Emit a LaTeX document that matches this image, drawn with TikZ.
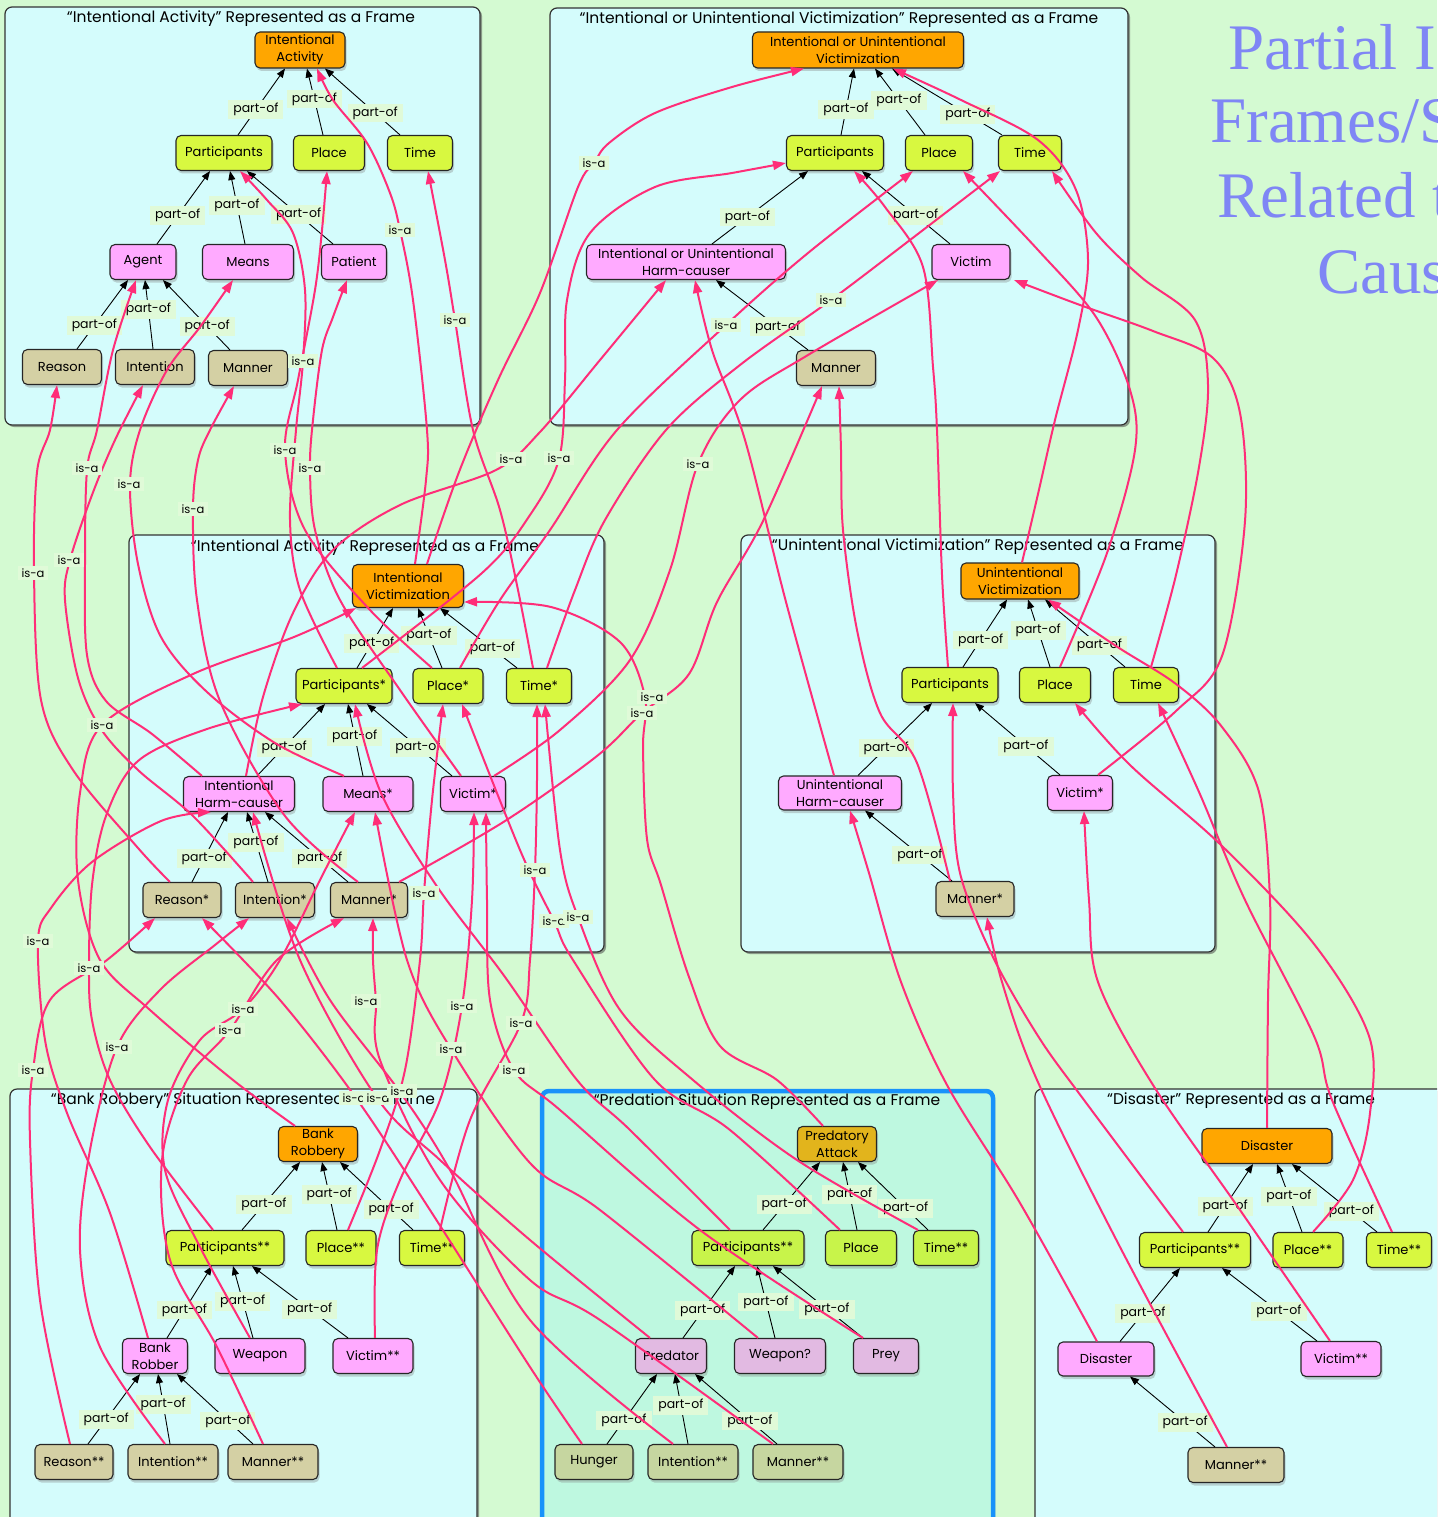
\documentclass[tikz,border=0pt]{standalone}
\usepackage{fontspec}
\setsansfont{Poppins}
\newfontfamily\bigserif{Liberation Serif}
\usetikzlibrary{arrows.meta,shadows}

\definecolor{pagebg}{RGB}{212,250,210}
\definecolor{framebg}{RGB}{212,252,252}
\definecolor{predbg}{RGB}{190,248,224}
\definecolor{predline}{RGB}{24,146,250}
\definecolor{cOrange}{RGB}{255,166,0}
\definecolor{cSlot}{RGB}{216,248,64}
\definecolor{cRole}{RGB}{255,170,255}
\definecolor{cAttr}{RGB}{212,208,164}
\definecolor{pOrange}{RGB}{226,180,28}
\definecolor{pSlot}{RGB}{200,244,74}
\definecolor{pRole}{RGB}{226,186,226}
\definecolor{pAttr}{RGB}{198,214,160}
\definecolor{isacol}{RGB}{255,45,120}
\definecolor{lblbg}{RGB}{224,250,216}
\definecolor{titleblue}{RGB}{127,134,245}

\tikzset{
  framebox/.style={draw=black!80, line width=1.2pt, rounded corners=7pt, fill=framebg,
     drop shadow={shadow xshift=2pt, shadow yshift=-2pt, opacity=0.55, fill=black!70}},
  ftitle/.style={font=\sffamily\fontsize{15.5}{18}\selectfont, inner sep=0pt},
  cbox/.style={draw=black!85, line width=1.1pt, rounded corners=5pt, inner sep=1pt, align=center,
     minimum height=35pt, font=\sffamily\fontsize{13}{17}\selectfont,
     drop shadow={shadow xshift=1.5pt, shadow yshift=-3pt, opacity=0.35}},
  frm/.style={cbox, fill=cOrange},
  slot/.style={cbox, fill=cSlot},
  role/.style={cbox, fill=cRole},
  attr/.style={cbox, fill=cAttr},
  partof/.style={draw=black, line width=0.9pt, -{Triangle[length=9pt,width=7pt]}},
  plbl/.style={fill=lblbg, inner xsep=5pt, inner ysep=3pt, font=\sffamily\fontsize{12.5}{13}\selectfont},
  isa/.style={draw=isacol, line width=2pt, -{Triangle[length=13pt,width=9pt]}},
  ilbl/.style={fill=lblbg, inner xsep=4pt, inner ysep=3pt, font=\sffamily\fontsize{11.5}{13}\selectfont},
  bigtitle/.style={anchor=base west, inner sep=0pt, text=titleblue, font=\bigserif\fontsize{65}{65}\selectfont}
}

% part-of connector: child, shift at child top, parent, shift at parent bottom, label position
\newcommand\pof[5]{\draw[partof] ([xshift=#2pt]#1.north) -- node[plbl,pos=#5]{part-of} ([xshift=#4pt]#3.south);}
% is-a connector through a list of points
\newcommand\isaline[1]{\draw[isa] plot[smooth,tension=0.55] coordinates {#1};}

\begin{document}
\begin{tikzpicture}[x=1pt,y=-1pt]
\useasboundingbox (0,0) rectangle (1437,1517);
\clip (0,0) rectangle (1437,1517);
\fill[pagebg] (0,0) rectangle (1437,1517);

% ---------- frames ----------
\draw[framebox] (5,7) rectangle (480,425);
\draw[framebox] (550,8) rectangle (1128,425);
\draw[framebox] (129,535) rectangle (604,952);
\draw[framebox] (741,535) rectangle (1215,952);
\draw[framebox] (10,1089) rectangle (477,1560);
\draw[framebox, fill=predbg, draw=predline, line width=4.5pt] (542,1091) rectangle (993,1560);
\draw[framebox] (1035,1089) rectangle (1480,1560);

\node[ftitle] (t1) at (241,19) {“Intentional Activity” Represented as a Frame};
\node[ftitle] (t2) at (839,20) {“Intentional or Unintentional Victimization” Represented as a Frame};
\node[ftitle] (t3) at (365,548) {“Intentional Activity” Represented as a Frame};
\node[ftitle] (t4) at (978,547) {“Unintentional Victimization” Represented as a Frame};
\node[ftitle] (t5) at (243,1101) {“Bank Robbery” Situation Represented as a Frame};
\node[ftitle] (t6) at (767,1102) {“Predation Situation Represented as a Frame};
\node[ftitle] (t7) at (1241,1101) {“Disaster” Represented as a Frame};

\node[bigtitle] (bt1) at (1228,70) {Partial I};
\node[bigtitle] (bt2) at (1210,143) {Frames/S};
\node[bigtitle] (bt3) at (1217,218) {Related t};
\node[bigtitle] (bt4) at (1317,293) {Caus};

% ---------- frame 1 ----------
\node[frm, minimum width=90pt, minimum height=36pt] (f1IA) at (300,50) {Intentional\\Activity};
\node[slot, minimum width=96pt] (f1Par) at (224,153) {Participants};
\node[slot, minimum width=71pt] (f1Pla) at (329,153) {Place};
\node[slot, minimum width=65pt] (f1Tim) at (420,153) {Time};
\node[role, minimum width=66pt] (f1Age) at (143,262) {Agent};
\node[role, minimum width=91pt] (f1Mea) at (248,262) {Means};
\node[role, minimum width=65pt] (f1Pat) at (354,262) {Patient};
\node[attr, minimum width=79pt] (f1Rea) at (62,367) {Reason};
\node[attr, minimum width=79pt] (f1Int) at (155,367) {Intention};
\node[attr, minimum width=79pt] (f1Man) at (248,368) {Manner};

% ---------- frame 2 ----------
\node[frm, minimum width=211pt, minimum height=36pt] (f2V) at (858,50) {Intentional or Unintentional\\Victimization};
\node[slot, minimum width=97pt] (f2Par) at (835,153) {Participants};
\node[slot, minimum width=67pt] (f2Pla) at (939,153) {Place};
\node[slot, minimum width=63pt] (f2Tim) at (1030,153) {Time};
\node[role, minimum width=199pt] (f2Har) at (686,262) {Intentional or Unintentional\\Harm-causer};
\node[role, minimum width=78pt] (f2Vic) at (971,262) {Victim};
\node[attr, minimum width=79pt] (f2Man) at (836,368) {Manner};

% ---------- frame 3 ----------
\node[frm, minimum width=111pt, minimum height=43pt] (f3V) at (408,586) {Intentional\\Victimization};
\node[slot, minimum width=96pt] (f3Par) at (344,686) {Participants*};
\node[slot, minimum width=70pt] (f3Pla) at (448,686) {Place*};
\node[slot, minimum width=65pt] (f3Tim) at (539,686) {Time*};
\node[role, minimum width=111pt] (f3Har) at (239,794) {Intentional\\Harm-causer};
\node[role, minimum width=90pt] (f3Mea) at (368,794) {Means*};
\node[role, minimum width=65pt] (f3Vic) at (473,794) {Victim*};
\node[attr, minimum width=78pt] (f3Rea) at (182,900) {Reason*};
\node[attr, minimum width=79pt] (f3Int) at (275,900) {Intention*};
\node[attr, minimum width=77pt] (f3Man) at (369,900) {Manner*};

% ---------- frame 4 ----------
\node[frm, minimum width=118pt, minimum height=36pt] (f4V) at (1020,581) {Unintentional\\Victimization};
\node[slot, minimum width=96pt] (f4Par) at (950,685) {Participants};
\node[slot, minimum width=71pt] (f4Pla) at (1055,685) {Place};
\node[slot, minimum width=65pt] (f4Tim) at (1146,685) {Time};
\node[role, minimum width=123pt, minimum height=34pt] (f4Har) at (840,793) {Unintentional\\Harm-causer};
\node[role, minimum width=65pt] (f4Vic) at (1080,793) {Victim*};
\node[attr, minimum width=78pt] (f4Man) at (975,899) {Manner*};

% ---------- frame 5 ----------
\node[frm, minimum width=79pt] (f5BR) at (318,1144) {Bank\\Robbery};
\node[slot, minimum width=118pt] (f5Par) at (225,1248) {Participants**};
\node[slot, minimum width=70pt] (f5Pla) at (341,1248) {Place**};
\node[slot, minimum width=65pt] (f5Tim) at (432,1248) {Time**};
\node[role, minimum width=65pt] (f5Rob) at (155,1356) {Bank\\Robber};
\node[role, minimum width=90pt] (f5Wea) at (260,1356) {Weapon};
\node[role, minimum width=80pt] (f5Vic) at (373,1356) {Victim**};
\node[attr, minimum width=78pt] (f5Rea) at (74,1462) {Reason**};
\node[attr, minimum width=90pt] (f5Int) at (173,1462) {Intention**};
\node[attr, minimum width=90pt] (f5Man) at (273,1462) {Manner**};

% ---------- frame 6 ----------
\node[frm, fill=pOrange, minimum width=79pt] (f6PA) at (837,1144) {Predatory\\Attack};
\node[slot, fill=pSlot, minimum width=112pt] (f6Par) at (748,1248) {Participants**};
\node[slot, fill=pSlot, minimum width=71pt] (f6Pla) at (861,1248) {Place};
\node[slot, fill=pSlot, minimum width=65pt] (f6Tim) at (946,1248) {Time**};
\node[role, fill=pRole, minimum width=71pt] (f6Pre) at (671,1356) {Predator};
\node[role, fill=pRole, minimum width=91pt] (f6Wea) at (780,1356) {Weapon?};
\node[role, fill=pRole, minimum width=65pt] (f6Pry) at (886,1356) {Prey};
\node[attr, fill=pAttr, minimum width=78pt] (f6Hun) at (594,1462) {Hunger};
\node[attr, fill=pAttr, minimum width=90pt] (f6Int) at (693,1462) {Intention**};
\node[attr, fill=pAttr, minimum width=90pt] (f6Man) at (798,1462) {Manner**};

% ---------- frame 7 ----------
\node[frm, minimum width=130pt] (f7D) at (1267,1146) {Disaster};
\node[slot, minimum width=111pt] (f7Par) at (1195,1250) {Participants**};
\node[slot, minimum width=70pt] (f7Pla) at (1308,1250) {Place**};
\node[slot, minimum width=65pt] (f7Tim) at (1399,1250) {Time**};
\node[role, minimum width=96pt, minimum height=34pt] (f7Dis) at (1106,1359) {Disaster};
\node[role, minimum width=80pt] (f7Vic) at (1341,1359) {Victim**};
\node[attr, minimum width=96pt] (f7Man) at (1236,1465) {Manner**};

% ---------- part-of connectors ----------
\pof{f1Par}{14}{f1IA}{-15}{0.38}
\pof{f1Pla}{-6}{f1IA}{7}{0.54}
\pof{f1Tim}{-20}{f1IA}{25}{0.33}
\pof{f1Age}{14}{f1Par}{-14}{0.39}
\pof{f1Mea}{-3}{f1Par}{6}{0.53}
\pof{f1Pat}{-21}{f1Par}{23}{0.4}
\pof{f1Rea}{15}{f1Age}{-15}{0.34}
\pof{f1Int}{-2}{f1Age}{2}{0.57}
\pof{f1Man}{-18}{f1Age}{20}{0.34}

\pof{f2Par}{6}{f2V}{-4}{0.38}
\pof{f2Pla}{-14}{f2V}{17}{0.52}
\pof{f2Tim}{-28}{f2V}{34}{0.31}
\pof{f2Har}{26}{f2Par}{-27}{0.37}
\pof{f2Vic}{-21}{f2Par}{27}{0.39}
\pof{f2Man}{-28}{f2Har}{30}{0.33}

\pof{f3Par}{13}{f3V}{-15}{0.41}
\pof{f3Pla}{-6}{f3V}{10}{0.54}
\pof{f3Tim}{-22}{f3V}{32}{0.32}
\pof{f3Har}{18}{f3Par}{-19}{0.4}
\pof{f3Mea}{-5}{f3Par}{4}{0.55}
\pof{f3Vic}{-21}{f3Par}{23}{0.4}
\pof{f3Rea}{10}{f3Har}{-11}{0.34}
\pof{f3Int}{-7}{f3Har}{8}{0.57}
\pof{f3Man}{-21}{f3Har}{26}{0.34}

\pof{f4Par}{13}{f4V}{-13}{0.4}
\pof{f4Pla}{-5}{f4V}{8}{0.54}
\pof{f4Tim}{-21}{f4V}{25}{0.32}
\pof{f4Har}{18}{f4Par}{-18}{0.38}
\pof{f4Vic}{-20}{f4Par}{25}{0.4}
\pof{f4Man}{-23}{f4Har}{25}{0.37}

\pof{f5Par}{17}{f5BR}{-18}{0.38}
\pof{f5Pla}{-4}{f5BR}{4}{0.52}
\pof{f5Tim}{-19}{f5BR}{22}{0.3}
\pof{f5Rob}{12}{f5Par}{-13}{0.39}
\pof{f5Wea}{-7}{f5Par}{8}{0.51}
\pof{f5Vic}{-25}{f5Par}{27}{0.4}
\pof{f5Rea}{14}{f5Rob}{-15}{0.35}
\pof{f5Int}{-3}{f5Rob}{3}{0.56}
\pof{f5Man}{-20}{f5Rob}{22}{0.33}

\pof{f6Par}{15}{f6PA}{-17}{0.37}
\pof{f6Pla}{-4}{f6PA}{6}{0.52}
\pof{f6Tim}{-18}{f6PA}{21}{0.32}
\pof{f6Pre}{12}{f6Par}{-13}{0.38}
\pof{f6Wea}{-5}{f6Par}{9}{0.5}
\pof{f6Pry}{-23}{f6Par}{25}{0.4}
\pof{f6Hun}{13}{f6Pre}{-14}{0.34}
\pof{f6Int}{-5}{f6Pre}{4}{0.55}
\pof{f6Man}{-21}{f6Pre}{24}{0.33}

\pof{f7Par}{13}{f7D}{-14}{0.38}
\pof{f7Pla}{-6}{f7D}{10}{0.52}
\pof{f7Tim}{-22}{f7D}{25}{0.3}
\pof{f7Dis}{14}{f7Par}{-15}{0.38}
\pof{f7Vic}{-24}{f7Par}{27}{0.4}
\pof{f7Man}{-21}{f7Dis}{24}{0.35}

% ---------- is-a connectors: Intentional Victimization -> Intentional Activity ----------
\isaline{([xshift=7pt]f3V.north) (426,480) (427,430) (413,300) (400,230) (390,193) (367,143) (333,100) ([xshift=17pt]f1IA.south)}
\isaline{([xshift=-7pt]f3Par.north) (300,590) (290,520) (296,430) (303,361) (305,290) (293,233) (267,200) ([xshift=16pt]f1Par.south)}
\isaline{([xshift=-16pt]f3Pla.north) (370,610) (305,530) (285,450) (298,380) (315,290) (322,230) ([xshift=-2pt]f1Pla.south)}
\isaline{([xshift=-12pt]f3Vic.north) (400,690) (340,600) (315,530) (310,468) (313,420) (322,350) (333,317) ([xshift=-7pt]f1Pat.south)}
\isaline{([xshift=-6pt]f3Tim.north) (518,590) (500,510) (473,430) (455,320) (445,260) ([xshift=8pt]f1Tim.south)}
\isaline{([xshift=-37pt]f3Har.north) (152,734) (106,701) (87,655) (85,564) (87,470) (97,430) (113,350) ([xshift=-7pt]f1Age.south)}
\isaline{([xshift=-24pt]f3Mea.north) (275,743) (207,692) (161,637) (138,564) (130,485) (140,430) (167,370) (200,327) ([xshift=-15pt]f1Mea.south)}
\isaline{([xshift=-11pt]f3Man.north) (285,816) (220,701) (197,600) (193,509) (198,460) (210,430) ([xshift=-14pt]f1Man.south)}
\isaline{([xshift=-12pt]f3Rea.north) (138,848) (73,770) (41,700) (34,573) (37,472) (50,430) ([xshift=-5pt]f1Rea.south)}
\isaline{([xshift=-22pt]f3Int.north) (193,816) (138,770) (101,729) (78,678) (65,600) (70,560) (92,495) (115,440) ([xshift=-12pt]f1Int.south)}

% ---------- Intentional Victimization -> Intentional or Unintentional Victimization ----------
\isaline{([xshift=19pt]f3V.north) (459,472) (498,380) (540,293) (578,187) (594,163) (609,143) (655,113) (732,87) ([xshift=-54pt]f2V.south)}
\isaline{([xshift=18pt]f3Par.north) (482,573) (528,518) (559,459) (565,380) (567,300) (590,233) (655,187) (732,173) ([yshift=-10pt]f2Par.west)}
\isaline{([xshift=12pt]f3Pla.north) (500,600) (550,530) (617,430) (726,325) (808,253) ([xshift=-26pt]f2Pla.south)}
\isaline{([xshift=8pt]f3Tim.north) (575,590) (605,520) (666,430) (740,365) (831,300) (910,240) ([xshift=-30pt]f2Tim.south)}
\isaline{([xshift=7pt]f3Har.north) (263,697) (293,613) (333,550) (400,505) (496,470) (540,432) (600,360) ([xshift=-20pt]f2Har.south)}
\isaline{([xshift=21pt]f3Vic.north) (560,730) (630,660) (670,570) (698,464) (740,400) (808,355) ([xshift=-33pt]f2Vic.south)}
\isaline{([xshift=30pt]f3Man.north) (505,821) (597,756) (642,713) (689,674) (717,602) (763,521) ([xshift=-14pt]f2Man.south)}

% ---------- Unintentional Victimization -> Intentional or Unintentional Victimization ----------
\isaline{([xshift=2pt]f4V.north) (1038,494) (1055,420) (1078,330) (1088,260) (1076,190) (1038,140) (961,100) ([xshift=35pt]f2V.south)}
\isaline{([xshift=-2pt]f4Par.north) (942,575) (937,430) (933,367) (923,267) (885,207) ([xshift=19pt]f2Par.south)}
\isaline{([xshift=5pt]f4Pla.north) (1107,553) (1135,450) (1130,390) (1096,317) (1038,250) ([xshift=24pt]f2Pla.south)}
\isaline{([xshift=5pt]f4Tim.north) (1176,575) (1199,467) (1208,385) (1195,320) (1141,277) (1096,233) ([xshift=22pt]f2Tim.south)}
\isaline{([xshift=-6pt]f4Har.north) (786,602) (745,440) (712,350) ([xshift=9pt]f2Har.south)}
\isaline{([xshift=18pt]f4Vic.north) (1176,711) (1222,656) (1245,521) (1240,413) (1213,358) (1153,331) (1080,305) ([xshift=43pt]f2Vic.south)}
\isaline{([xshift=-25pt]f4Man.north) (917,763) (880,713) (857,630) (843,530) (841,450) ([xshift=3pt]f2Man.south)}

% ---------- Disaster -> Unintentional Victimization ----------
\isaline{(f7D.north) (1268,1000) (1270,900) (1259,792) (1222,727) (1176,684) (1116,646) ([xshift=28pt]f4V.south)}
\isaline{([xshift=-12pt]f7Par.north) (1084,1100) (1038,1036) (992,955) (960,873) (953,792) ([xshift=3pt]f4Par.south)}
\isaline{([xshift=5pt]f7Pla.north) (1353,1180) (1370,1113) (1369,1036) (1314,944) (1222,846) (1130,765) ([xshift=20pt]f4Pla.south)}
\isaline{([xshift=-7pt]f7Tim.north) (1332,1100) (1314,1036) (1245,900) (1199,792) ([xshift=12pt]f4Tim.south)}
\isaline{([xshift=-9pt]f7Dis.north) (1020,1203) (947,1085) (901,982) (869,873) ([xshift=10pt]f4Har.south)}
\isaline{([xshift=-11pt]f7Vic.north) (1240,1210) (1153,1085) (1098,982) (1089,900) ([xshift=4pt]f4Vic.south)}
\isaline{([xshift=-9pt]f7Man.north) (1120,1247) (1037,1080) (1002,982) ([xshift=12pt]f4Man.south)}

% ---------- Bank Robbery -> Intentional Victimization ----------
\isaline{([xshift=-23pt]f5BR.north) (233,1080) (150,1010) (100,960) (78,880) (80,793) (102,725) (193,674) (294,637) ([xshift=-52pt]f3V.south)}
\isaline{([xshift=-12pt]f5Par.north) (150,1147) (110,1080) (92,1020) (89,968) (92,885) (106,816) (138,761) (207,729) ([xshift=-42pt]f3Par.south)}
\isaline{([xshift=7pt]f5Pla.north) (380,1150) (405,1070) (420,960) (424,893) (432,800) ([xshift=-5pt]f3Pla.south)}
\isaline{([xshift=8pt]f5Tim.north) (470,1120) (521,1023) (530,960) (535,870) (537,780) ([xshift=-2pt]f3Tim.south)}
\isaline{([xshift=-7pt]f5Rob.north) (110,1213) (67,1113) (45,1040) (38,941) (51,908) (92,862) (161,821) ([xshift=-28pt]f3Har.south)}
\isaline{([xshift=-10pt]f5Wea.north) (200,1247) (165,1170) (168,1100) (200,1040) (243,1009) (280,960) (320,880) ([xshift=-13pt]f3Mea.south)}
\isaline{([xshift=2pt]f5Vic.north) (377,1250) (400,1180) (440,1100) (462,1006) (472,900) ([xshift=1pt]f3Vic.south)}
\isaline{([xshift=-4pt]f5Rea.north) (40,1300) (30,1140) (33,1070) (50,1000) (107,960) ([xshift=-27pt]f3Rea.south)}
\isaline{([xshift=-8pt]f5Int.north) (100,1347) (80,1250) (90,1150) (117,1047) (160,990) (215,945) ([xshift=-26pt]f3Int.south)}
\isaline{([xshift=-10pt]f5Man.north) (217,1347) (170,1260) (162,1160) (187,1080) (230,1030) (277,960) ([xshift=-25pt]f3Man.south)}

% ---------- Predatory Attack -> Intentional Victimization ----------
\isaline{([xshift=-14pt]f6PA.north) (777,1080) (720,1046) (689,977) (661,885) (647,839) (643,747) (645,697) (620,642) (551,607) ([yshift=-16pt]f3V.east)}
\isaline{([xshift=-18pt]f6Par.north) (630,1130) (577,1080) (505,977) (436,885) (381,793) ([xshift=11pt]f3Par.south)}
\isaline{([xshift=-21pt]f6Pla.north) (730,1130) (655,1080) (573,960) (554,921) (520,850) ([xshift=14pt]f3Pla.south)}
\isaline{([xshift=-28pt]f6Tim.north) (797,1160) (693,1080) (620,1010) (578,917) (560,850) ([xshift=6pt]f3Tim.south)}
\isaline{([xshift=-21pt]f6Pre.north) (530,1240) (440,1160) (377,1098) (300,960) ([xshift=14pt]f3Har.south)}
\isaline{([xshift=-22pt]f6Wea.north) (600,1210) (530,1163) (451,1049) (407,960) ([xshift=7pt]f3Mea.south)}
\isaline{([xshift=-23pt]f6Pry.north) (700,1230) (560,1110) (514,1070) (490,1000) (487,900) ([xshift=13pt]f3Vic.south)}
\isaline{([xshift=-12pt]f6Hun.north) (530,1367) (430,1210) (356,1098) (280,1000) ([xshift=20pt]f3Rea.south)}
\isaline{([xshift=-20pt]f6Int.north) (530,1320) (450,1170) (400,1092) (330,1000) ([xshift=12pt]f3Int.south)}
\isaline{([xshift=-25pt]f6Man.north) (600,1320) (530,1280) (440,1180) (380,1060) (376,1001) (373,960) ([xshift=4pt]f3Man.south)}

% ---------- is-a labels ----------
\node[ilbl] (i01) at (594,163) {is-a};
\node[ilbl] (i02) at (400,230) {is-a};
\node[ilbl] (i03) at (455,320) {is-a};
\node[ilbl] (i04) at (303,361) {is-a};
\node[ilbl] (i05) at (726,325) {is-a};
\node[ilbl] (i06) at (831,300) {is-a};
\node[ilbl] (i07) at (87,468) {is-a};
\node[ilbl] (i08) at (129,484) {is-a};
\node[ilbl] (i09) at (33,573) {is-a};
\node[ilbl] (i10) at (69,560) {is-a};
\node[ilbl] (i11) at (193,509) {is-a};
\node[ilbl] (i12) at (285,450) {is-a};
\node[ilbl] (i13) at (310,468) {is-a};
\node[ilbl] (i14) at (511,459) {is-a};
\node[ilbl] (i15) at (559,458) {is-a};
\node[ilbl] (i16) at (698,464) {is-a};
\node[ilbl] (i17) at (102,725) {is-a};
\node[ilbl] (i18) at (652,697) {is-a};
\node[ilbl] (i19) at (642,713) {is-a};
\node[ilbl] (i20) at (424,893) {is-a};
\node[ilbl] (i21) at (535,870) {is-a};
\node[ilbl] (i22) at (554,921) {is-a};
\node[ilbl] (i23) at (578,917) {is-a};
\node[ilbl] (i24) at (38,941) {is-a};
\node[ilbl] (i25) at (89,968) {is-a};
\node[ilbl] (i26) at (243,1009) {is-a};
\node[ilbl] (i27) at (230,1030) {is-a};
\node[ilbl] (i28) at (117,1047) {is-a};
\node[ilbl] (i29) at (33,1070) {is-a};
\node[ilbl] (i30) at (366,1001) {is-a};
\node[ilbl] (i31) at (462,1006) {is-a};
\node[ilbl] (i32) at (451,1049) {is-a};
\node[ilbl] (i33) at (521,1023) {is-a};
\node[ilbl] (i34) at (514,1070) {is-a};
\node[ilbl] (i35) at (354,1098) {is-a};
\node[ilbl] (i36) at (378,1098) {is-a};
\node[ilbl] (i37) at (402,1091) {is-a};
\end{tikzpicture}
\end{document}
